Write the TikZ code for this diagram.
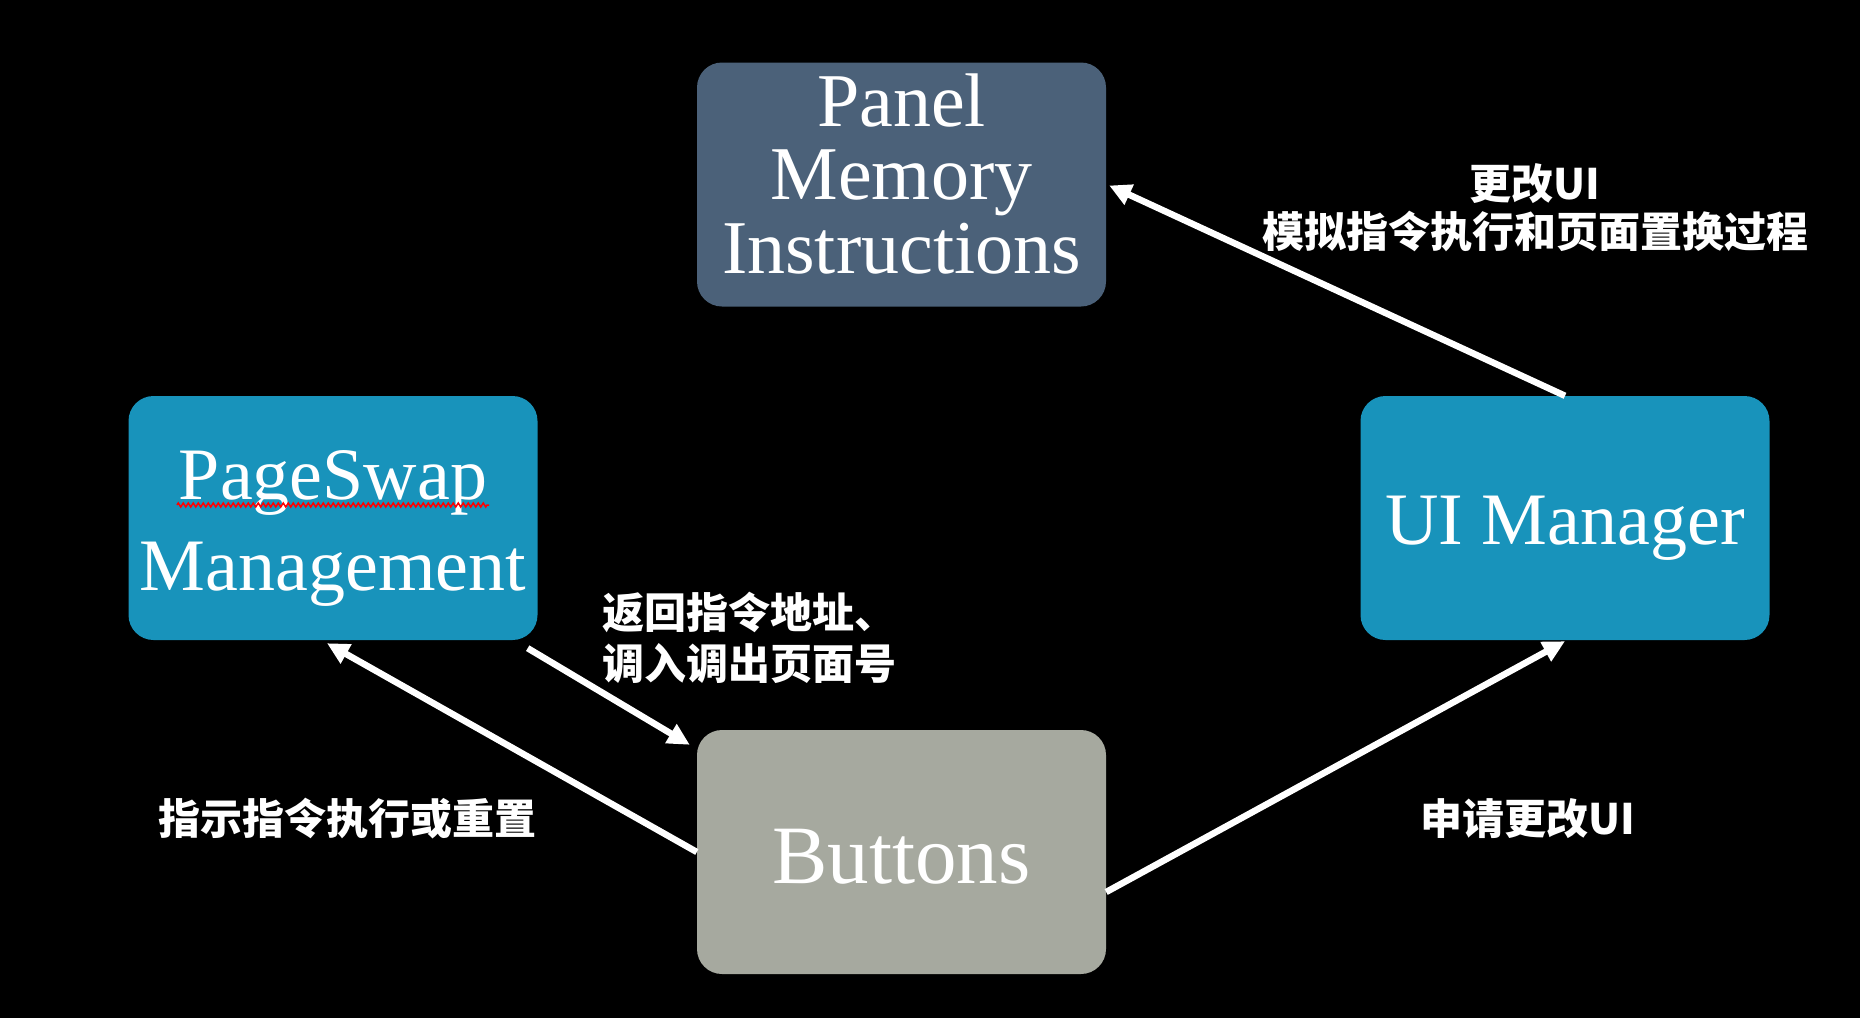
\documentclass[tikz,border=0pt]{standalone}
\usepackage{fontspec}
\setmainfont{Liberation Serif}
\newfontfamily\cjk{Noto Sans CJK SC Black}
\usetikzlibrary{arrows.meta,calc,decorations.pathmorphing}
\definecolor{slate}{HTML}{4B6179}
\definecolor{teal}{HTML}{1893BB}
\definecolor{stone}{HTML}{A6A99F}
\tikzset{
  box/.style={rounded corners=25pt, minimum width=409pt, minimum height=244pt, inner sep=0pt, text=white, align=center},
  arr/.style={draw=white, line width=6.5pt, -{Triangle[length=22pt,width=21pt]}},
  lbl/.style={text=white, inner sep=0pt}
}
\begin{document}
\begin{tikzpicture}[x=1pt,y=-1pt]
\fill[black] (0,0) rectangle (1860,1018);
\useasboundingbox (0,0) rectangle (1860,1018);

\node[box, fill=slate, font=\fontsize{76}{73.5}\selectfont] (panel) at (901.5,184.5) {\begin{tabular}{@{}c@{}}Panel\\Memory\\Instructions\end{tabular}};
\node[box, fill=teal, font=\fontsize{74}{90}\selectfont] (pageswap) at (333,518) {\raisebox{-8.5pt}[\height][\depth]{\begin{tabular}{@{}c@{}}PageSwap\\[1pt]Management\end{tabular}}};
\node[box, fill=teal, font=\fontsize{74}{74}\selectfont] (ui) at (1565,518) {\raisebox{-10pt}[\height][\depth]{UI Manager}};
\node[box, fill=stone, font=\fontsize{83}{83}\selectfont] (buttons) at (901.5,852) {\raisebox{-5pt}[\height][\depth]{Buttons}};

\draw[red, line width=1.5pt, decorate, decoration={zigzag, amplitude=2pt, segment length=5pt}]
  ($(pageswap.center)+(-156,-13)$) -- ($(pageswap.center)+(156,-13)$);

\draw[arr] (ui.north) -- ($(panel.east)+(3,1)$);
\draw[arr] ($(pageswap.south east)+(-10,8)$) -- ($(buttons.north west)+(-7,15)$);
\draw[arr] (buttons.west) -- ($(pageswap.south)+(-6,3)$);
\draw[arr] ($(buttons.east)+(0,40)$) -- ($(ui.south)+(0,1)$);

\node[lbl, align=center, font=\cjk\fontsize{42}{48}\selectfont] (lab1) at (1535,208) {更改UI\\模拟指令执行和页面置换过程};
\node[lbl, align=left, anchor=west, font=\cjk\fontsize{42}{51}\selectfont] (lab2) at (602,637.5) {返回指令地址、\\调入调出页面号};
\node[lbl, font=\cjk\fontsize{42}{42}\selectfont] (lab3) at (347,819) {指示指令执行或重置};
\node[lbl, font=\cjk\fontsize{42}{42}\selectfont] (lab4) at (1528,819) {申请更改UI};
\end{tikzpicture}
\end{document}
